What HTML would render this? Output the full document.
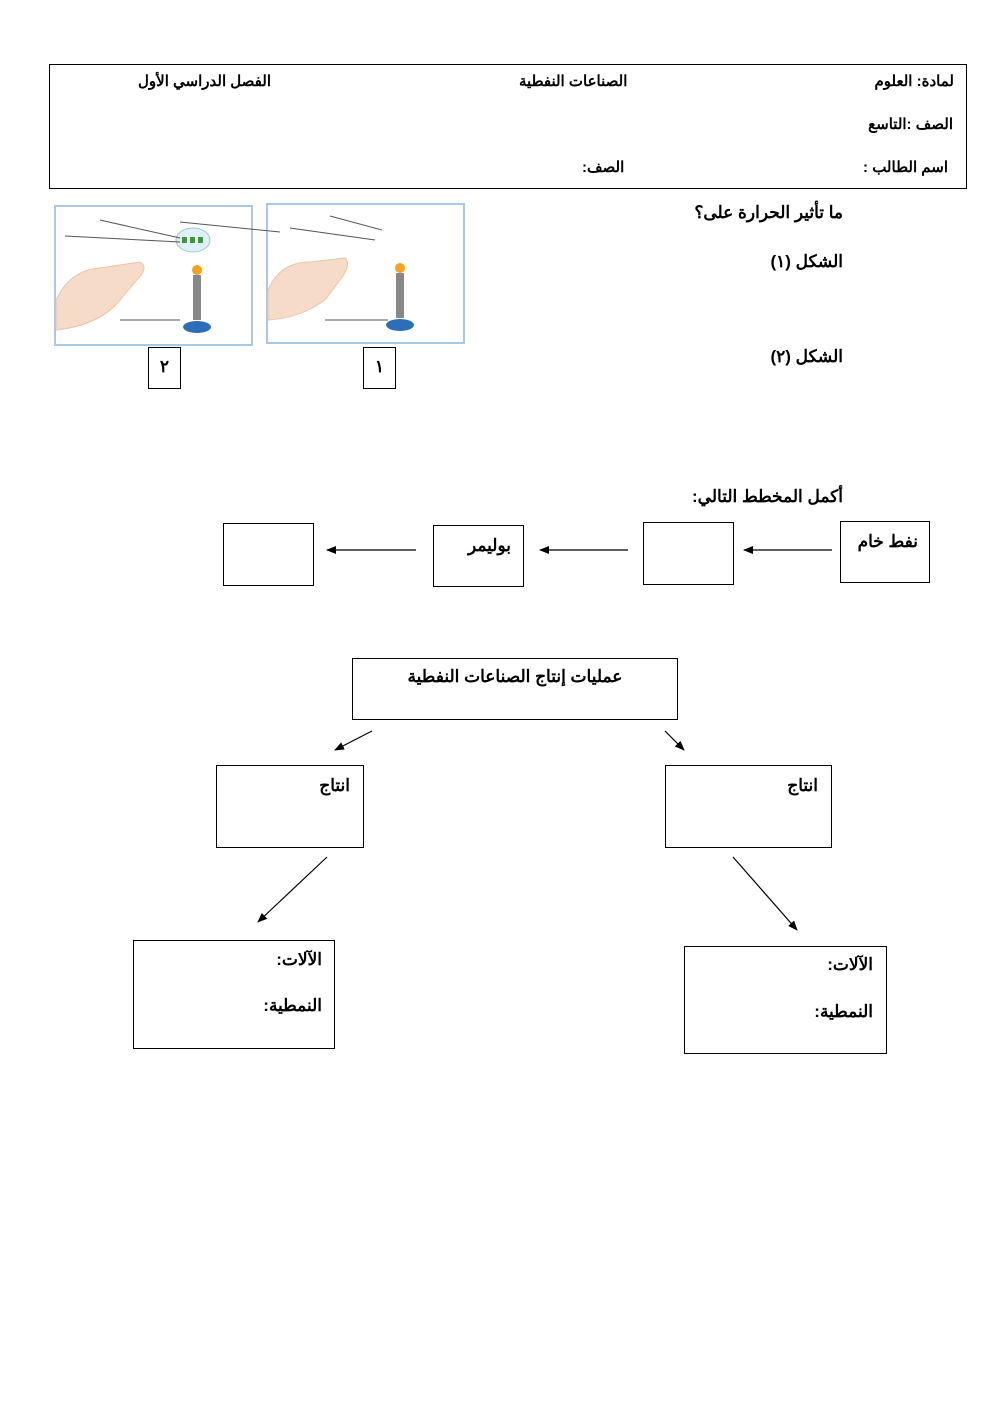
<!DOCTYPE html>
<html><head><meta charset="utf-8"><style>
body{margin:0;width:992px;height:1403px;background:#fff;position:relative;font-family:"Liberation Sans","Noto Sans CJK SC",sans-serif;font-weight:bold;color:#000;overflow:hidden}
.t{position:absolute;white-space:nowrap;direction:rtl;font-size:15px;line-height:18px}
.q{font-size:17px;line-height:20px}
.b{position:absolute;border:1px solid #000;box-sizing:border-box}
svg{position:absolute;left:0;top:0}
</style></head><body>
<div class="b" style="left:49px;top:64px;width:918px;height:125px;border:1.5px solid #000"></div>
<div class="t" style="right:38px;top:73px">لمادة: العلوم</div>
<div class="t" style="right:39px;top:116px">الصف :التاسع</div>
<div class="t" style="right:44px;top:159px">اسم الطالب :</div>
<div class="t" style="left:519px;top:73px">الصناعات النفطية</div>
<div class="t" style="left:138px;top:73px">الفصل الدراسي الأول</div>
<div class="t" style="left:582px;top:159px">الصف:</div>

<div class="t q" style="right:149px;top:203px">ما تأثير الحرارة على؟</div>
<div class="t q" style="right:149px;top:252px">الشكل (١)</div>
<div class="t q" style="right:149px;top:347px">الشكل (٢)</div>

<svg width="992" height="1403">
<defs><marker id="a" markerWidth="10" markerHeight="8" refX="9" refY="4" orient="auto" markerUnits="userSpaceOnUse"><path d="M0,0L10,4L0,8z" fill="#000"/></marker></defs>
<!-- images -->
<rect x="55" y="206" width="197" height="139" fill="#fff" stroke="#a9c8e6" stroke-width="2"/>
<rect x="267" y="204" width="197" height="139" fill="#fff" stroke="#a9c8e6" stroke-width="2"/>
<g fill="#f6dcc8" stroke="#e8c4a8">
<path d="M56,300 Q70,270 100,268 L140,262 Q150,268 135,282 L120,300 Q100,325 56,330z"/>
<path d="M268,290 Q280,262 310,262 L345,258 Q352,265 340,280 L325,300 Q300,318 268,320z"/>
</g>
<rect x="193" y="275" width="8" height="45" fill="#888"/><circle cx="197" cy="270" r="5" fill="#f6a21e"/>
<ellipse cx="197" cy="327" rx="14" ry="6" fill="#2c6fb8"/>
<rect x="396" y="273" width="8" height="45" fill="#888"/><circle cx="400" cy="268" r="5" fill="#f6a21e"/>
<ellipse cx="400" cy="325" rx="14" ry="6" fill="#2c6fb8"/>
<ellipse cx="193" cy="240" rx="17" ry="12" fill="#dff0f6" stroke="#9cc"/>
<path d="M182,240h22" stroke="#3a9a3a" stroke-width="6" stroke-dasharray="5 3"/>
<g stroke="#555" stroke-width="1"><path d="M65,236L180,242M100,220L180,238M120,320H180M180,222L280,232M325,320H388M290,228L375,240M330,216L382,230"/></g>
<!-- arrows row -->
<g stroke="#000" stroke-width="1.2" marker-end="url(#a)">
<line x1="832" y1="550" x2="744" y2="550"/>
<line x1="628" y1="550" x2="540" y2="550"/>
<line x1="416" y1="550" x2="327" y2="550"/>
<line x1="372" y1="731" x2="335" y2="750"/>
<line x1="665" y1="731" x2="684" y2="750"/>
<line x1="327" y1="857" x2="258" y2="922"/>
<line x1="733" y1="857" x2="797" y2="930"/>
</g>
</svg>
<div class="b" style="left:148px;top:347px;width:33px;height:42px"></div>
<div class="t q" style="left:148px;width:33px;text-align:center;top:357px;direction:ltr">٢</div>
<div class="b" style="left:363px;top:347px;width:33px;height:42px"></div>
<div class="t q" style="left:363px;width:33px;text-align:center;top:357px;direction:ltr">١</div>

<div class="t q" style="right:149px;top:487px">أكمل المخطط التالي:</div>
<div class="b" style="left:840px;top:521px;width:90px;height:62px"></div>
<div class="t q" style="right:74px;top:532px">نفط خام</div>
<div class="b" style="left:643px;top:522px;width:91px;height:63px"></div>
<div class="b" style="left:433px;top:525px;width:91px;height:62px"></div>
<div class="t q" style="right:481px;top:536px">بوليمر</div>
<div class="b" style="left:223px;top:523px;width:91px;height:63px"></div>

<div class="b" style="left:352px;top:658px;width:326px;height:62px"></div>
<div class="t q" style="left:352px;width:326px;text-align:center;top:667px">عمليات إنتاج الصناعات النفطية</div>
<div class="b" style="left:216px;top:765px;width:148px;height:83px"></div>
<div class="t q" style="right:642px;top:776px">انتاج</div>
<div class="b" style="left:665px;top:765px;width:167px;height:83px"></div>
<div class="t q" style="right:174px;top:776px">انتاج</div>
<div class="b" style="left:133px;top:940px;width:202px;height:109px"></div>
<div class="t q" style="right:670px;top:950px">الآلات:</div>
<div class="t q" style="right:670px;top:996px">النمطية:</div>
<div class="b" style="left:684px;top:946px;width:203px;height:108px"></div>
<div class="t q" style="right:119px;top:955px">الآلات:</div>
<div class="t q" style="right:119px;top:1002px">النمطية:</div>
</body></html>
